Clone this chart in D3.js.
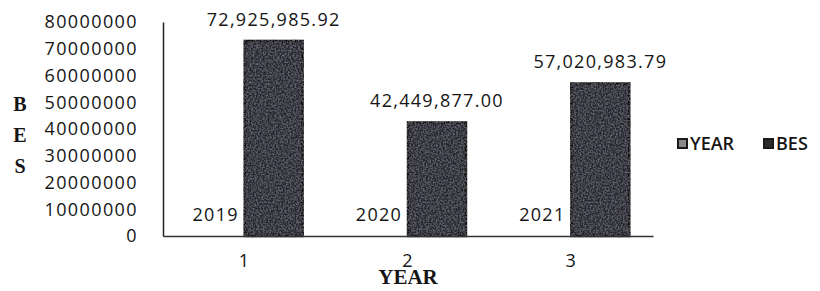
<!DOCTYPE html>
<html>
<head>
<meta charset="utf-8">
<script src="https://cdn.jsdelivr.net/npm/d3@7"></script>
<style>
  body { margin: 0; background: #fff; }
  svg { display: block; }
  .tick text { font-family: "Open Sans", sans-serif; font-size: 18px; letter-spacing: 1.4px; fill: #151515; }
</style>
</head>
<body>
<div id="chart"></div>
<script>
// categories on the x axis
const categories = ['1', '2', '3'];
const seriesNames = ['YEAR', 'BES'];
// series values
const yearValues = [2019, 2020, 2021];
const besValues = [72925985.92, 42449877.00, 57020983.79];
const yTicks = [0, 10000000, 20000000, 30000000, 40000000, 50000000, 60000000, 70000000, 80000000];

const width = 820, height = 291;
const margin = { top: 22, right: 167, bottom: 55, left: 163 };
const innerW = width - margin.left - margin.right,
    innerH = height - margin.top - margin.bottom;

const svg = d3.select('#chart')
    .append('svg')
    .attr('width', width)
    .attr('height', height);

// slight grain, like the printed original
const defs = svg.append('defs');
const grain = defs.append('filter').attr('id', 'grain');
grain.append('feTurbulence')
    .attr('type', 'fractalNoise')
    .attr('baseFrequency', 0.6)
    .attr('numOctaves', 2)
    .attr('seed', 3)
    .attr('result', 'n');
grain.append('feColorMatrix')
    .attr('in', 'n')
    .attr('type', 'matrix')
    .attr('values', '0 0 0 0 0.32  0 0 0 0 0.32  0 0 0 0 0.38  0.9 0 0 0 -0.35')
    .attr('result', 'c');
grain.append('feComposite')
    .attr('in', 'c')
    .attr('in2', 'SourceGraphic')
    .attr('operator', 'atop');

const g = svg.append('g')
    .attr('transform', 'translate(' + margin.left + ',' + margin.top + ')');

const x0 = d3.scaleBand()
    .domain(categories)
    .range([0, innerW])
    .paddingInner(0.29)
    .paddingOuter(0.145);

const x1 = d3.scaleBand()
    .domain(seriesNames)
    .range([0, x0.bandwidth()]);

const y = d3.scaleLinear()
    .domain([0, 80000000])
    .range([innerH, 0]);

const data = categories.map(function (c, i) {
    return { cat: c, values: [
        { key: 'YEAR', value: yearValues[i], label: String(yearValues[i]) },
        { key: 'BES', value: besValues[i], label: d3.format(',.2f')(besValues[i]) }
    ] };
});

// y axis
const yAxis = g.append('g')
    .call(d3.axisLeft(y).tickValues(yTicks).tickSize(0).tickPadding(25).tickFormat(d3.format('d')));
yAxis.select('.domain').attr('stroke', '#222').attr('stroke-width', 1.5);

// bars
const groups = g.selectAll('.grp')
    .data(data)
    .enter()
    .append('g')
    .attr('class', 'grp')
    .attr('transform', function (d) { return 'translate(' + x0(d.cat) + ',0)'; });

groups.selectAll('rect')
    .data(function (d) { return d.values; })
    .enter()
    .append('rect')
    .attr('x', function (d) { return x1(d.key); })
    .attr('y', function (d) { return y(d.value); })
    .attr('width', x1.bandwidth())
    .attr('height', function (d) { return innerH - y(d.value); })
    .attr('fill', function (d) { return d.key === 'BES' ? '#282830' : '#fff'; })
    .attr('stroke', function (d) { return d.key === 'BES' ? '#0c0c0c' : 'none'; })
    .attr('stroke-width', 2.5)
    .attr('filter', function (d) { return d.key === 'BES' ? 'url(#grain)' : null; });

groups.selectAll('.lbl')
    .data(function (d) { return d.values; })
    .enter()
    .append('text')
    .attr('class', 'lbl')
    .attr('x', function (d) { return x1(d.key) + x1.bandwidth() / 2; })
    .attr('y', function (d) { return y(d.value) - 15; })
    .attr('text-anchor', 'middle')
    .style('font-family', '"Open Sans", sans-serif')
    .style('font-size', '18px')
    .style('letter-spacing', '1.3px')
    .style('fill', '#151515')
    .text(function (d) { return d.label; });

// x axis
const xAxis = g.append('g')
    .attr('transform', 'translate(0,' + innerH + ')')
    .call(d3.axisBottom(x0).tickSize(0).tickPadding(18));
xAxis.select('.domain').attr('stroke', '#333').attr('stroke-width', 1.5);

// axis titles
svg.append('text')
    .attr('x', margin.left + x0('2') + x0.bandwidth() / 2)
    .attr('y', 284)
    .attr('text-anchor', 'middle')
    .style('font-family', '"Liberation Serif", serif')
    .style('font-weight', 'bold')
    .style('font-size', '21px')
    .style('fill', '#151515')
    .text('YEAR');

svg.append('g')
    .selectAll('text')
    .data(['B', 'E', 'S'])
    .enter()
    .append('text')
    .attr('x', 20)
    .attr('y', function (d, i) { return 111 + i * 31; })
    .attr('text-anchor', 'middle')
    .style('font-family', '"Liberation Serif", serif')
    .style('font-weight', 'bold')
    .style('font-size', '20px')
    .style('fill', '#151515')
    .text(function (d) { return d; });

// legend
const legend = svg.append('g')
    .attr('transform', 'translate(677,143)');
const legX = [0, 86];
seriesNames.forEach(function (name, i) {
    const item = legend.append('g').attr('transform', 'translate(' + legX[i] + ',0)');
    item.append('rect')
        .attr('x', 1).attr('y', -4)
        .attr('width', 9).attr('height', 9)
        .attr('fill', name === 'BES' ? '#2a2a30' : '#8a8a8a')
        .attr('stroke', '#1a1a1a')
        .attr('stroke-width', 2);
    item.append('text')
        .attr('x', 13)
        .attr('y', 7)
        .style('font-family', '"Open Sans", sans-serif')
        .style('font-weight', '600')
        .style('font-size', '18px')
        .style('fill', '#151515')
        .text(name);
});
</script>
</body>
</html>
